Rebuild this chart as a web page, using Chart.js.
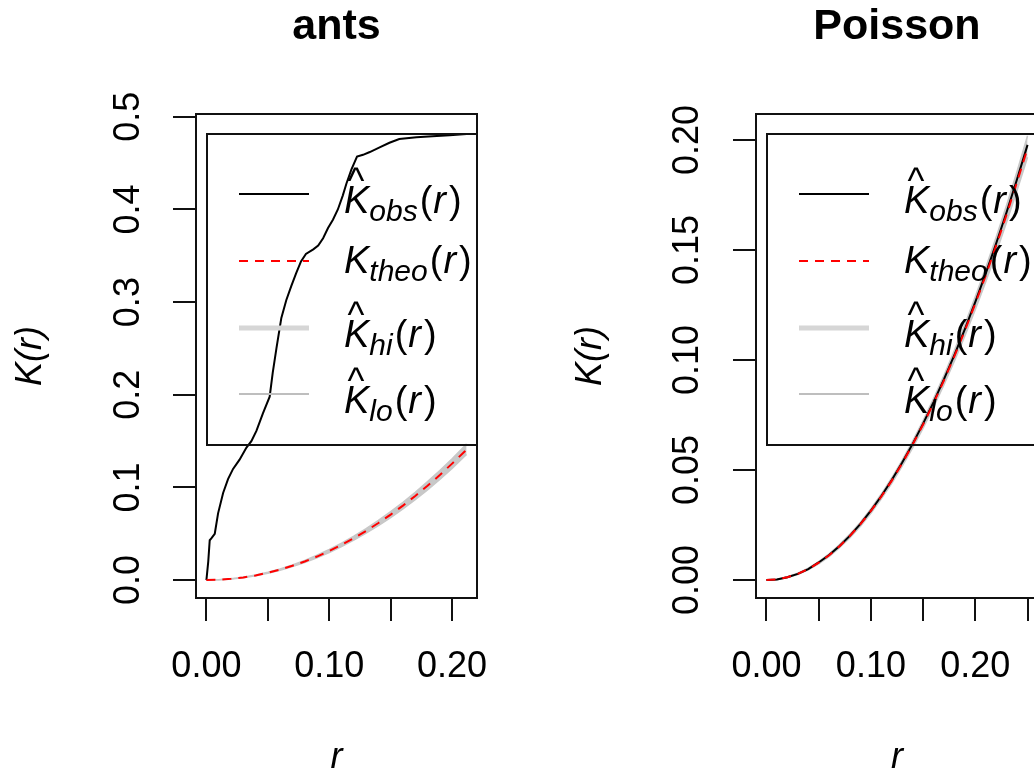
<!DOCTYPE html>
<html><head><meta charset="utf-8">
<script src="https://cdn.jsdelivr.net/npm/chart.js@4/dist/chart.umd.min.js"></script>
<style>
html,body{margin:0;padding:0;background:#fff;overflow:hidden;width:1034px;height:776px;position:relative;}
canvas{position:absolute;top:0;}
#c1{left:0;} #c2{left:560px;}
</style></head><body>
<canvas id="c1" width="673" height="776"></canvas>
<canvas id="c2" width="674" height="776"></canvas>
<script>
// ---------------- data ----------------
const titles = ['ants', 'Poisson'];

const antsObsR = [0,0.0015,0.0027,0.004,0.0068,0.0095,0.0136,0.0176,0.0217,0.027,0.0326,0.0366,0.0407,0.046,0.0515,0.054,0.057,0.061,0.065,0.069,0.073,0.077,0.081,0.087,0.091,0.095,0.099,0.103,0.107,0.111,0.114,0.118,0.1226,0.1275,0.133,0.141,0.149,0.157,0.171,0.184,0.198,0.2118];
const antsObsK = [0,0.02,0.043,0.045,0.05,0.072,0.094,0.109,0.12,0.13,0.143,0.15,0.161,0.18,0.198,0.224,0.25,0.283,0.302,0.317,0.331,0.344,0.352,0.357,0.361,0.369,0.38,0.389,0.40,0.415,0.428,0.443,0.457,0.459,0.462,0.467,0.472,0.476,0.478,0.479,0.48,0.4815];
const antsGridR = [0,0.01,0.02,0.03,0.04,0.05,0.06,0.07,0.08,0.09,0.10,0.11,0.12,0.13,0.14,0.15,0.16,0.17,0.18,0.19,0.20,0.21,0.2118];
const antsTheo = [0,0.0003,0.0013,0.0028,0.0050,0.0079,0.0113,0.0154,0.0201,0.0254,0.0314,0.0380,0.0452,0.0531,0.0616,0.0707,0.0804,0.0908,0.1018,0.1134,0.1257,0.1385,0.1409];
const antsHi = [0,0.0004,0.0014,0.0031,0.0054,0.0084,0.0120,0.0163,0.0212,0.0268,0.0330,0.0399,0.0474,0.0556,0.0644,0.0739,0.0840,0.0948,0.1062,0.1183,0.1310,0.1445,0.1470];
const antsLo = [0,0.0003,0.0011,0.0026,0.0046,0.0073,0.0106,0.0145,0.0190,0.0241,0.0298,0.0362,0.0431,0.0506,0.0587,0.0674,0.0767,0.0867,0.0973,0.1085,0.1205,0.1333,0.1355];

// Poisson
const poisGridR = [0,0.01,0.02,0.03,0.04,0.05,0.06,0.07,0.08,0.09,0.10,0.11,0.12,0.13,0.14,0.15,0.16,0.17,0.18,0.19,0.20,0.21,0.22,0.23,0.24,0.25];
const poisObs = [0,0.0003,0.0013,0.0028,0.0050,0.0080,0.0114,0.0155,0.0202,0.0255,0.0316,0.0382,0.0455,0.0534,0.0619,0.0711,0.0809,0.0913,0.1024,0.1141,0.1265,0.1394,0.1531,0.1673,0.1823,0.1978];
const poisTheo = [0,0.0003,0.0013,0.0028,0.0050,0.0079,0.0113,0.0154,0.0201,0.0254,0.0314,0.0380,0.0452,0.0531,0.0616,0.0707,0.0804,0.0908,0.1018,0.1134,0.1257,0.1385,0.1521,0.1662,0.1810,0.1963];
const poisHi = [0,0.0004,0.0015,0.0031,0.0054,0.0084,0.0119,0.0161,0.0209,0.0263,0.0324,0.0391,0.0465,0.0545,0.0632,0.0725,0.0825,0.0931,0.1044,0.1163,0.1289,0.1421,0.1560,0.1705,0.1858,0.2020];
const poisLo = [0,0.0002,0.0011,0.0025,0.0046,0.0074,0.0107,0.0147,0.0193,0.0245,0.0304,0.0369,0.0440,0.0518,0.0601,0.0691,0.0786,0.0888,0.0996,0.1110,0.1230,0.1356,0.1489,0.1627,0.1772,0.1922];

// axes
const antsXLim = [-0.00847, 0.22027];
const antsYLim = [-0.01935, 0.50305];
const poisXLim = [-0.01, 0.26];
const poisYLim = [-0.00815, 0.21185];
const antsXTicks = [0, 0.05, 0.10, 0.15, 0.20];
const antsXLabels = ['0.00', '', '0.10', '', '0.20'];
const antsYTicks = [0, 0.1, 0.2, 0.3, 0.4, 0.5];
const antsYLabels = ['0.0', '0.1', '0.2', '0.3', '0.4', '0.5'];
const poisXTicks = [0, 0.05, 0.10, 0.15, 0.20, 0.25];
const poisXLabels = ['0.00', '', '0.10', '', '0.20', ''];
const poisYTicks = [0, 0.05, 0.10, 0.15, 0.20];
const poisYLabels = ['0.00', '0.05', '0.10', '0.15', '0.20'];
const xTitle = 'r';
const yTitle = 'K(r)';

// legend
const legendMain = ['K', 'K', 'K', 'K'];
const legendSub = ['obs', 'theo', 'hi', 'lo'];
const legendHat = [true, false, true, true];

// ---------------- styles ----------------
const FONT = "'Liberation Sans', Arial, Helvetica, sans-serif";
const legendStyle = {
  colors: ['#000000', '#FF0000', '#D6D6D6', '#BEBEBE'],
  widths: [2, 2, 5, 2],
  dashes: [[], [9, 7], [], []]
};

const pts = (xs, ys) => xs.map((x, i) => ({x: x, y: ys[i]}));

const rFrame = {
  id: 'rFrame',
  afterDatasetsDraw(chart) {
    const ctx = chart.ctx, a = chart.chartArea;
    ctx.save();
    ctx.strokeStyle = '#111';
    ctx.lineWidth = 2;
    ctx.setLineDash([]);
    ctx.strokeRect(a.left, a.top, a.right - a.left, a.bottom - a.top);
    // legend box
    const L = a.left + 11, T = a.top + 20, R = a.right, B = T + 311;
    ctx.strokeRect(L, T, R - L, B - T);
    const rows = [60, 127, 194, 260];
    legendSub.forEach((sub, i) => {
      const y = T + rows[i];
      ctx.beginPath();
      ctx.strokeStyle = legendStyle.colors[i];
      ctx.lineWidth = legendStyle.widths[i];
      ctx.setLineDash(legendStyle.dashes[i]);
      ctx.moveTo(L + 32, y); ctx.lineTo(L + 102, y);
      ctx.stroke();
      ctx.setLineDash([]);
      // text
      ctx.fillStyle = '#000';
      ctx.textAlign = 'left';
      ctx.textBaseline = 'alphabetic';
      const by = y + (legendHat[i] ? 19 : 12);
      let x = L + 137;
      ctx.font = 'italic 38px ' + FONT;
      ctx.fillText(legendMain[i], x, by);
      const kw = ctx.measureText(legendMain[i]).width;
      if (legendHat[i]) {
        ctx.font = '36px ' + FONT;
        ctx.textAlign = 'center';
        ctx.fillText('^', x + 12, by - 20);
        ctx.textAlign = 'left';
      }
      x += kw;
      ctx.font = 'italic 30px ' + FONT;
      ctx.fillText(sub, x, by + 8);
      x += ctx.measureText(sub).width + 2;
      ctx.font = '38px ' + FONT;
      ctx.fillText('(', x, by);
      x += ctx.measureText('(').width + 1;
      ctx.font = 'italic 38px ' + FONT;
      ctx.fillText('r', x, by);
      x += ctx.measureText('r').width + 3;
      ctx.font = '38px ' + FONT;
      ctx.fillText(')', x, by);
    });
    ctx.restore();
  }
};

function makeChart(id, title, gridR, obsR, obs, theo, hi, lo, xLim, yLim, xT, xL, yT, yL, yPad) {
  const band = '#C8C8C8';
  return new Chart(document.getElementById(id), {
    type: 'line',
    data: {
      datasets: [
        {label: 'obs', data: pts(obsR, obs), borderColor: '#000', borderWidth: 2, pointRadius: 0, fill: false, order: 1},
        {label: 'theo', data: pts(gridR, theo), borderColor: '#FF0000', borderWidth: 2, borderDash: [9, 7], pointRadius: 0, fill: false, order: 0},
        {label: 'hi', data: pts(gridR, hi), borderColor: band, backgroundColor: band, borderWidth: 1.5, pointRadius: 0, fill: '+1', order: 2},
        {label: 'lo', data: pts(gridR, lo), borderColor: band, borderWidth: 1.5, pointRadius: 0, fill: false, order: 3}
      ]
    },
    options: {
      responsive: false,
      animation: false,
      devicePixelRatio: 1,
      layout: {padding: 0, autoPadding: false},
      elements: {line: {tension: 0}},
      plugins: {
        legend: {display: false},
        tooltip: {enabled: false},
        title: {display: true, text: title, color: '#000', font: {family: FONT, size: 43, weight: 'bold'}, padding: {top: 1, bottom: 61.4}}
      },
      scales: {
        x: {
          type: 'linear', position: 'bottom', min: xLim[0], max: xLim[1],
          afterBuildTicks: s => { s.ticks = xT.map(v => ({value: v})); },
          afterFit: s => { s.height = 178; },
          grid: {drawOnChartArea: false, drawTicks: true, tickLength: 23, color: '#111', lineWidth: 2},
          border: {display: false},
          ticks: {autoSkip: false, maxRotation: 0, minRotation: 0, padding: 24, color: '#000', font: {family: FONT, size: 36}, callback: (v, i) => xL[i]},
          title: {display: true, text: xTitle, color: '#000', font: {family: FONT, size: 36, style: 'italic', lineHeight: 1.0}, padding: {top: 0, bottom: 0}}
        },
        y: {
          type: 'linear', position: 'left', min: yLim[0], max: yLim[1],
          afterBuildTicks: s => { s.ticks = yT.map(v => ({value: v})); },
          afterFit: s => { s.width = 196; },
          grid: {drawOnChartArea: false, drawTicks: true, tickLength: 23, color: '#111', lineWidth: 2},
          border: {display: false},
          ticks: {autoSkip: false, minRotation: 90, maxRotation: 90, crossAlign: 'center', padding: yPad, color: '#000', font: {family: FONT, size: 36}, callback: (v, i) => yL[i]},
          title: {display: true, text: yTitle, color: '#000', font: {family: FONT, size: 36, style: 'italic', lineHeight: 1.2}, padding: {top: 9, bottom: 0}}
        },
        y2: {
          type: 'linear', position: 'right', display: true,
          afterFit: s => { s.width = 196; },
          grid: {display: false}, border: {display: false}, ticks: {display: false}
        }
      }
    },
    plugins: [rFrame]
  });
}

makeChart('c1', titles[0], antsGridR, antsObsR, antsObsK, antsTheo, antsHi, antsLo, antsXLim, antsYLim, antsXTicks, antsXLabels, antsYTicks, antsYLabels, 19);
makeChart('c2', titles[1], poisGridR, poisGridR, poisObs, poisTheo, poisHi, poisLo, poisXLim, poisYLim, poisXTicks, poisXLabels, poisYTicks, poisYLabels, 10);
</script>
</body></html>
